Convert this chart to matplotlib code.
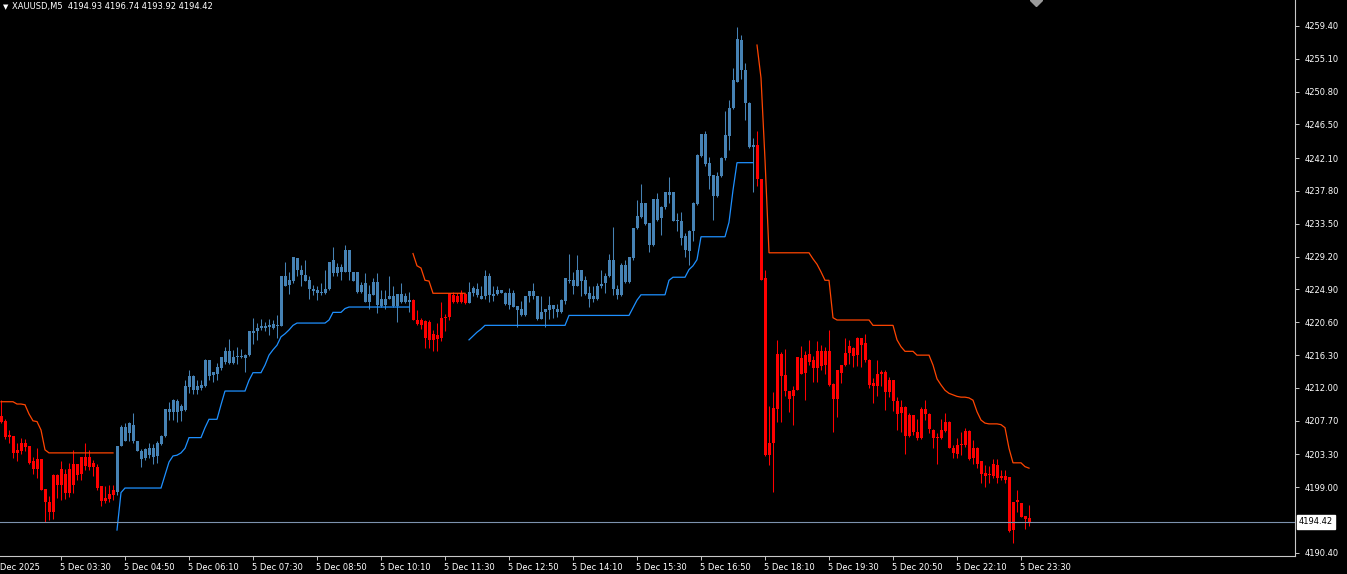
import numpy as np
import matplotlib
matplotlib.use("Agg")
import matplotlib.pyplot as plt
import matplotlib.transforms as mtrans

nan = np.nan

symbol_header = "XAUUSD,M5  4194.93 4196.74 4193.92 4194.42"
last_price = 4194.42
last_label = "4194.42"

opens = [
    4208.3, 4207.7, 4205.6, 4205.7, 4203.5, 4203.7, 4204.8, 4204.4, 4202.5, 4201.4,
    4202.7, 4198.8, 4197.1, 4195.8, 4200.6, 4199.3, 4200.7, 4198.2, 4202.0, 4200.6,
    4202.9, 4201.8, 4202.9, 4201.6, 4201.7, 4199.1, 4197.2, 4197.4, 4198.0, 4198.4,
    4204.4, 4206.9, 4206.1, 4207.2, 4205.1, 4203.8, 4202.8, 4204.1, 4202.9, 4204.8,
    4204.7, 4205.7, 4209.2, 4208.8, 4210.3, 4209.0, 4209.1, 4212.1, 4213.6, 4211.7,
    4212.0, 4212.2, 4215.6, 4213.7, 4213.8, 4214.6, 4215.4, 4216.8, 4215.3, 4216.0,
    4216.2, 4215.9, 4216.3, 4219.5, 4219.4, 4219.9, 4220.1, 4220.0, 4220.4, 4220.1,
    4220.1, 4226.7, 4225.5, 4226.0, 4229.0, 4227.5, 4226.8, 4226.2, 4225.0, 4224.8,
    4224.4, 4224.5, 4224.9, 4228.7, 4227.0, 4227.8, 4227.2, 4230.1, 4227.2, 4227.2,
    4224.6, 4225.7, 4223.3, 4224.2, 4225.9, 4222.7, 4223.7, 4223.6, 4224.0, 4222.7,
    4224.3, 4223.3, 4223.5, 4223.5, 4220.9, 4220.2, 4220.8, 4218.3, 4219.1, 4218.4,
    4218.5, 4221.1, 4221.3, 4224.2, 4223.3, 4224.4, 4223.1, 4224.6, 4224.5, 4224.9,
    4224.0, 4224.0, 4226.7, 4224.0, 4224.3, 4224.8, 4224.5, 4222.9, 4224.5, 4222.7,
    4222.3, 4221.6, 4224.0, 4224.7, 4224.0, 4221.0, 4221.9, 4222.2, 4222.9, 4222.4,
    4221.9, 4223.4, 4226.2, 4226.1, 4225.4, 4227.5, 4226.2, 4224.5, 4223.7, 4223.7,
    4225.3, 4225.7, 4226.6, 4228.7, 4225.0, 4224.2, 4228.1, 4225.9, 4229.0, 4232.9,
    4234.4, 4236.2, 4233.6, 4230.7, 4236.7, 4234.3, 4235.7, 4237.6, 4237.6, 4233.8,
    4233.9, 4231.9, 4230.0, 4232.5, 4236.1, 4242.4, 4245.3, 4241.4, 4239.9, 4237.1,
    4239.7, 4242.1, 4245.0, 4248.6, 4252.1, 4257.6, 4253.6, 4249.3, 4243.6, 4243.8,
    4239.3, 4226.4, 4203.2, 4204.8, 4209.2, 4216.5, 4213.7, 4211.6, 4210.9, 4211.8,
    4215.9, 4213.9, 4216.5, 4215.6, 4214.6, 4216.9, 4215.0, 4216.9, 4212.5, 4210.6,
    4214.0, 4215.0, 4216.6, 4217.2, 4216.3, 4218.5, 4217.9, 4215.7, 4212.3, 4212.3,
    4213.8, 4214.1, 4211.5, 4213.0, 4210.3, 4208.7, 4209.5, 4205.7, 4208.5, 4206.3,
    4205.4, 4209.2, 4208.6, 4206.5, 4205.4, 4205.4, 4206.4, 4207.5, 4204.2, 4203.4,
    4204.7, 4204.5, 4206.4, 4202.8, 4204.2, 4202.4, 4200.9, 4200.6, 4200.5, 4201.9,
    4200.2, 4200.5, 4200.3, 4193.4, 4197.1, 4197.0, 4195.2, 4194.93,
]

closes = [
    4207.6, 4205.6, 4205.8, 4203.5, 4203.9, 4204.8, 4204.3, 4202.2, 4201.4, 4202.7,
    4198.6, 4197.1, 4195.8, 4200.6, 4199.3, 4201.4, 4198.2, 4201.4, 4199.3, 4202.0,
    4200.7, 4202.9, 4201.7, 4202.2, 4198.9, 4197.2, 4197.6, 4198.1, 4198.6, 4204.4,
    4206.9, 4205.1, 4207.4, 4205.0, 4203.7, 4202.7, 4204.0, 4203.2, 4204.1, 4203.1,
    4205.7, 4209.2, 4208.8, 4210.4, 4208.8, 4209.6, 4212.3, 4213.6, 4211.7, 4212.2,
    4212.4, 4215.7, 4213.6, 4214.1, 4214.8, 4216.0, 4216.8, 4215.3, 4216.0, 4216.2,
    4216.0, 4216.3, 4219.4, 4219.2, 4219.9, 4220.1, 4219.9, 4220.2, 4219.9, 4220.2,
    4226.7, 4225.4, 4226.2, 4229.1, 4227.5, 4226.8, 4226.0, 4225.0, 4224.7, 4224.5,
    4224.6, 4224.9, 4228.5, 4227.0, 4227.8, 4227.2, 4230.1, 4227.2, 4226.0, 4224.6,
    4225.5, 4223.3, 4224.3, 4225.9, 4222.9, 4223.7, 4222.9, 4224.0, 4222.7, 4224.3,
    4223.3, 4224.0, 4223.3, 4220.9, 4220.4, 4220.9, 4218.5, 4220.7, 4218.3, 4218.9,
    4221.1, 4221.3, 4224.4, 4223.3, 4224.0, 4223.3, 4224.3, 4223.1, 4225.1, 4224.2,
    4223.7, 4226.7, 4224.2, 4224.3, 4224.8, 4224.5, 4223.0, 4224.5, 4222.6, 4222.2,
    4221.6, 4224.0, 4224.7, 4224.0, 4221.0, 4222.0, 4222.3, 4222.9, 4222.3, 4221.9,
    4223.5, 4226.4, 4226.0, 4225.4, 4227.4, 4226.0, 4224.3, 4223.7, 4224.0, 4225.4,
    4225.6, 4226.7, 4228.7, 4225.0, 4224.2, 4228.1, 4225.9, 4229.1, 4232.9, 4234.5,
    4236.2, 4233.5, 4230.7, 4236.7, 4234.0, 4235.7, 4237.6, 4237.3, 4233.9, 4234.0,
    4231.6, 4230.1, 4232.6, 4236.2, 4242.5, 4245.3, 4241.3, 4239.7, 4237.1, 4239.8,
    4242.1, 4245.1, 4248.6, 4252.3, 4257.7, 4253.6, 4249.3, 4243.6, 4243.8, 4239.3,
    4226.2, 4203.2, 4204.8, 4209.4, 4216.5, 4213.6, 4211.6, 4210.6, 4211.8, 4216.0,
    4213.8, 4216.3, 4215.4, 4214.6, 4216.8, 4214.9, 4216.9, 4212.4, 4210.6, 4214.3,
    4215.0, 4216.6, 4217.5, 4216.2, 4218.5, 4217.6, 4215.6, 4212.4, 4212.6, 4213.8,
    4214.1, 4211.5, 4213.1, 4210.3, 4208.6, 4209.5, 4205.7, 4208.5, 4206.3, 4205.4,
    4209.2, 4208.6, 4206.6, 4205.5, 4205.6, 4206.5, 4207.5, 4204.2, 4203.5, 4204.5,
    4204.5, 4206.4, 4202.7, 4204.2, 4202.1, 4200.8, 4200.5, 4200.7, 4202.0, 4200.2,
    4200.5, 4199.9, 4193.3, 4197.1, 4197.3, 4195.1, 4194.8, 4194.42,
]

highs = [
    4210.4, 4207.9, 4206.5, 4205.7, 4204.8, 4205.4, 4205.3, 4204.4, 4203.0, 4204.2,
    4202.7, 4198.8, 4197.9, 4200.8, 4200.8, 4202.4, 4201.4, 4202.2, 4203.9, 4202.0,
    4203.0, 4204.8, 4203.9, 4202.6, 4202.1, 4199.1, 4199.2, 4199.3, 4199.3, 4204.4,
    4207.2, 4207.4, 4207.6, 4208.7, 4205.1, 4204.0, 4204.2, 4204.8, 4204.7, 4205.1,
    4205.8, 4209.3, 4210.1, 4210.5, 4210.6, 4209.9, 4213.0, 4214.3, 4213.7, 4213.0,
    4213.1, 4215.8, 4215.6, 4214.1, 4215.3, 4216.0, 4217.4, 4218.4, 4217.0, 4217.4,
    4217.1, 4216.5, 4219.5, 4221.1, 4220.5, 4221.0, 4220.7, 4221.0, 4220.9, 4221.6,
    4226.7, 4228.5, 4227.2, 4229.1, 4229.0, 4228.1, 4228.8, 4226.6, 4225.5, 4225.4,
    4225.7, 4227.5, 4228.5, 4230.5, 4228.3, 4228.2, 4230.7, 4230.1, 4227.2, 4227.2,
    4225.9, 4227.0, 4225.5, 4226.4, 4227.0, 4224.8, 4224.8, 4226.6, 4225.3, 4224.3,
    4225.7, 4224.4, 4224.6, 4223.6, 4222.2, 4221.1, 4220.9, 4220.9, 4219.6, 4220.5,
    4223.3, 4221.7, 4224.4, 4224.6, 4224.5, 4224.8, 4224.4, 4225.9, 4225.3, 4225.7,
    4225.3, 4227.5, 4227.0, 4225.3, 4225.3, 4224.8, 4224.6, 4225.1, 4224.8, 4222.7,
    4223.4, 4224.0, 4224.7, 4225.8, 4224.0, 4224.0, 4222.3, 4224.0, 4222.9, 4223.0,
    4223.7, 4226.4, 4229.6, 4227.2, 4229.4, 4227.5, 4226.6, 4225.3, 4225.4, 4225.7,
    4227.5, 4227.1, 4229.5, 4233.1, 4225.5, 4228.3, 4228.8, 4229.1, 4232.9, 4236.6,
    4238.7, 4236.2, 4233.6, 4236.7, 4237.5, 4235.8, 4237.6, 4239.6, 4237.7, 4234.9,
    4235.0, 4232.3, 4232.7, 4236.4, 4242.7, 4245.3, 4245.6, 4242.3, 4239.9, 4240.3,
    4242.3, 4248.3, 4249.7, 4253.9, 4259.3, 4258.2, 4254.5, 4249.5, 4244.7, 4245.6,
    4239.3, 4227.4, 4209.6, 4211.5, 4218.3, 4216.7, 4217.1, 4211.6, 4212.3, 4216.1,
    4217.5, 4216.8, 4218.3, 4216.2, 4218.1, 4217.6, 4217.4, 4219.6, 4212.6, 4214.4,
    4215.0, 4218.6, 4218.3, 4217.4, 4218.7, 4218.5, 4219.1, 4215.8, 4213.3, 4215.7,
    4214.4, 4214.4, 4213.5, 4213.1, 4210.8, 4210.4, 4209.6, 4208.7, 4208.5, 4208.0,
    4209.5, 4210.4, 4208.7, 4206.6, 4206.1, 4208.0, 4208.7, 4207.7, 4204.5, 4205.4,
    4206.3, 4206.7, 4206.5, 4205.2, 4204.3, 4202.4, 4201.9, 4201.8, 4202.7, 4202.7,
    4201.2, 4201.2, 4200.3, 4197.1, 4198.6, 4197.0, 4195.2, 4196.74,
]

lows = [
    4207.4, 4205.3, 4204.8, 4202.8, 4202.5, 4203.4, 4203.7, 4202.1, 4200.8, 4200.2,
    4198.6, 4194.5, 4194.7, 4194.9, 4197.6, 4197.3, 4197.4, 4197.7, 4198.2, 4199.9,
    4199.9, 4201.3, 4201.3, 4200.5, 4198.6, 4196.5, 4197.0, 4197.1, 4197.3, 4198.0,
    4204.4, 4205.0, 4205.0, 4204.8, 4203.7, 4201.7, 4202.6, 4202.8, 4202.0, 4202.2,
    4204.5, 4205.6, 4207.8, 4207.8, 4207.5, 4207.7, 4209.0, 4211.3, 4211.2, 4211.2,
    4211.7, 4212.1, 4213.1, 4212.8, 4213.1, 4214.4, 4215.2, 4215.2, 4215.2, 4215.1,
    4215.9, 4214.1, 4216.2, 4217.8, 4218.3, 4219.6, 4219.4, 4218.9, 4219.7, 4218.6,
    4220.1, 4225.3, 4224.3, 4225.7, 4226.6, 4225.3, 4226.0, 4223.7, 4224.2, 4223.5,
    4224.2, 4224.3, 4224.8, 4226.6, 4226.7, 4226.1, 4227.2, 4226.1, 4226.0, 4224.4,
    4224.4, 4223.3, 4222.4, 4224.2, 4221.8, 4222.6, 4222.4, 4223.6, 4222.6, 4220.7,
    4223.1, 4223.1, 4222.0, 4220.9, 4220.2, 4219.7, 4217.3, 4217.2, 4216.8, 4216.8,
    4218.2, 4219.5, 4220.9, 4223.1, 4223.1, 4223.1, 4223.0, 4223.1, 4224.0, 4223.9,
    4223.6, 4223.7, 4223.2, 4223.4, 4224.2, 4224.4, 4222.9, 4222.3, 4222.6, 4220.0,
    4221.4, 4221.4, 4223.3, 4223.7, 4220.9, 4221.0, 4220.0, 4221.0, 4221.1, 4221.3,
    4221.8, 4223.0, 4225.7, 4224.3, 4225.3, 4224.0, 4224.2, 4222.6, 4223.3, 4223.5,
    4225.1, 4224.5, 4226.5, 4224.2, 4223.6, 4224.0, 4225.7, 4225.8, 4228.8, 4232.8,
    4234.3, 4233.3, 4229.8, 4230.6, 4233.9, 4232.0, 4235.5, 4236.2, 4233.8, 4232.5,
    4230.7, 4229.2, 4228.1, 4231.2, 4236.0, 4242.3, 4241.0, 4238.1, 4234.0, 4237.0,
    4239.6, 4241.9, 4243.2, 4248.5, 4252.0, 4252.4, 4247.1, 4243.4, 4237.7, 4238.4,
    4226.1, 4203.1, 4201.9, 4198.4, 4207.5, 4207.6, 4210.9, 4208.9, 4207.2, 4211.7,
    4213.8, 4210.4, 4215.0, 4212.8, 4212.8, 4214.3, 4213.8, 4212.2, 4206.3, 4208.2,
    4212.6, 4214.9, 4215.2, 4214.8, 4214.9, 4214.8, 4215.4, 4212.0, 4210.0, 4210.9,
    4212.2, 4209.1, 4210.8, 4209.0, 4206.5, 4206.3, 4203.4, 4205.6, 4205.8, 4205.2,
    4205.3, 4207.8, 4206.1, 4204.2, 4202.1, 4205.3, 4206.3, 4204.1, 4202.8, 4202.8,
    4203.2, 4204.3, 4202.6, 4202.1, 4201.5, 4199.6, 4199.0, 4199.5, 4200.2, 4199.5,
    4199.9, 4199.6, 4193.2, 4191.7, 4195.8, 4195.1, 4193.6, 4193.92,
]

# trailing-stop indicator: support (uptrend) and resistance (downtrend) lines
up_line = ([nan] * 29 + [4193.4, 4198.3] + [4198.9] * 10
           + [4200.6, 4202.3, 4203.1, 4203.2, 4203.5, 4204.1] + [4205.5] * 4
           + [4206.8] + [4207.9] * 3 + [4209.8] + [4211.6] * 6 + [4213.0]
           + [4214.0] * 3
           + [4215.0, 4216.3, 4217.0, 4217.6, 4218.7, 4219.1, 4219.6, 4220.2]
           + [4220.5] * 8 + [4220.9] + [4221.9] * 3 + [4222.4] + [4222.6] * 16
           + [nan] * 14 + [4218.3, 4218.8, 4219.3, 4219.7] + [4220.2] * 21
           + [4221.5] * 16 + [4222.5, 4223.5] + [4224.2] * 7 + [4226.1]
           + [4226.5] * 4 + [4227.5, 4228.0, 4228.8] + [4231.8] * 7
           + [4233.7, 4237.9] + [4241.5] * 5 + [nan] * 69)

dn_line = ([4210.2] * 4 + [4209.9] * 2
           + [4209.8, 4208.6, 4207.7, 4207.6, 4206.5, 4203.9] + [4203.5] * 17
           + [nan] * 74 + [4229.6, 4228.0, 4227.7, 4226.1, 4226.0] + [4224.4] * 9
           + [nan] * 72 + [4256.9, 4252.6, 4241.9] + [4229.7] * 11
           + [4228.9, 4228.2, 4227.2, 4226.1, 4226.1, 4221.2] + [4220.9] * 9
           + [4220.2] * 6 + [4218.3, 4217.4] + [4216.8] * 3 + [4216.3] * 4
           + [4215.0, 4213.2, 4212.4, 4211.7, 4211.3, 4211.1, 4210.9, 4210.8,
              4210.8, 4210.7, 4210.4, 4208.9, 4207.8, 4207.4]
           + [4207.3] * 3 + [4207.2, 4206.8, 4204.1] + [4202.2] * 3
           + [4201.7, 4201.5])

price_ticks = [4259.40, 4255.10, 4250.80, 4246.50, 4242.10, 4237.80, 4233.50,
               4229.20, 4224.90, 4220.60, 4216.30, 4212.00, 4207.70, 4203.30,
               4199.00, 4190.40]
price_labels = ["4259.40", "4255.10", "4250.80", "4246.50", "4242.10", "4237.80",
                "4233.50", "4229.20", "4224.90", "4220.60", "4216.30", "4212.00",
                "4207.70", "4203.30", "4199.00", "4190.40"]

time_labels = ["5 Dec 2025", "5 Dec 03:30", "5 Dec 04:50", "5 Dec 06:10",
               "5 Dec 07:30", "5 Dec 08:50", "5 Dec 10:10", "5 Dec 11:30",
               "5 Dec 12:50", "5 Dec 14:10", "5 Dec 15:30", "5 Dec 16:50",
               "5 Dec 18:10", "5 Dec 19:30", "5 Dec 20:50", "5 Dec 22:10",
               "5 Dec 23:30"]
time_label_bars = [-2.0, 15, 31, 47, 63, 79, 95, 111, 127, 143, 159, 175,
                   191, 207, 223, 239, 255]

# ---------------------------------------------------------------------------
W, H = 1347, 574
fig = plt.figure(figsize=(W / 100, H / 100), dpi=100)
fig.patch.set_facecolor("black")
ax = fig.add_axes([0, 18 / H, 1295 / W, 556 / H])
ax.set_facecolor("black")

o = np.array(opens); c = np.array(closes)
hi = np.array(highs); lo = np.array(lows)
up = np.array(up_line, dtype=float); dn = np.array(dn_line, dtype=float)
x = np.arange(len(o))
col = np.where(~np.isnan(up), "#4682B4", "#FF0000")

ax.vlines(x, lo, hi, colors=col, linewidth=0.75)
body_bottom = np.minimum(o, c)
body_h = np.maximum(np.abs(c - o), 0.13)
ax.bar(x, body_h, bottom=body_bottom, width=0.75, color=col, linewidth=0)

ax.plot(x, up, color="#1E90FF", lw=0.9, solid_joinstyle="miter")
ax.plot(x, dn, color="#FF4500", lw=0.9, solid_joinstyle="miter")
ax.axhline(last_price, color="#7D92AE", lw=0.8)

ax.set_xlim(-0.25, 323.5)
ax.set_ylim(4190.0, 4262.8)

for s in ("left", "top"):
    ax.spines[s].set_visible(False)
for s in ("right", "bottom"):
    ax.spines[s].set_color("#C8C8C8")
    ax.spines[s].set_linewidth(0.8)

ax.yaxis.tick_right()
ax.set_yticks(price_ticks)
ax.set_yticklabels(price_labels)
ax.tick_params(axis="y", colors="#C8C8C8", labelcolor="white", length=3,
               width=0.7, labelsize=6, pad=4)
ax.set_xticks([b for b in time_label_bars if b >= 0])
ax.set_xticklabels([])
ax.tick_params(axis="x", colors="#C8C8C8", length=3, width=0.7)

tr = mtrans.blended_transform_factory(ax.transData, fig.transFigure)
for b, lab in zip(time_label_bars, time_labels):
    ax.text(b - 0.3, 6 / H, lab, transform=tr, color="white", fontsize=6,
            ha="left", va="center", clip_on=False)

# current price label on the axis
fig.text(1299 / W, 1 - 522 / H, last_label, color="black", fontsize=6,
         ha="left", va="center",
         bbox=dict(boxstyle="square,pad=0.25", fc="white", ec="white"))

# header
fig.text(3 / W, 1 - 7 / H, "\u25BC", color="white", fontsize=5, ha="left",
         va="center")
fig.text(12 / W, 1 - 7 / H, symbol_header, color="white", fontsize=6,
         ha="left", va="center")

# object marker at top edge
fig.add_artist(plt.Line2D([1036 / W], [1 - 0 / H], marker="D", markersize=6,
                          color="#9A9A9A", transform=fig.transFigure))

fig.savefig("out.png", dpi=100, facecolor="black")
